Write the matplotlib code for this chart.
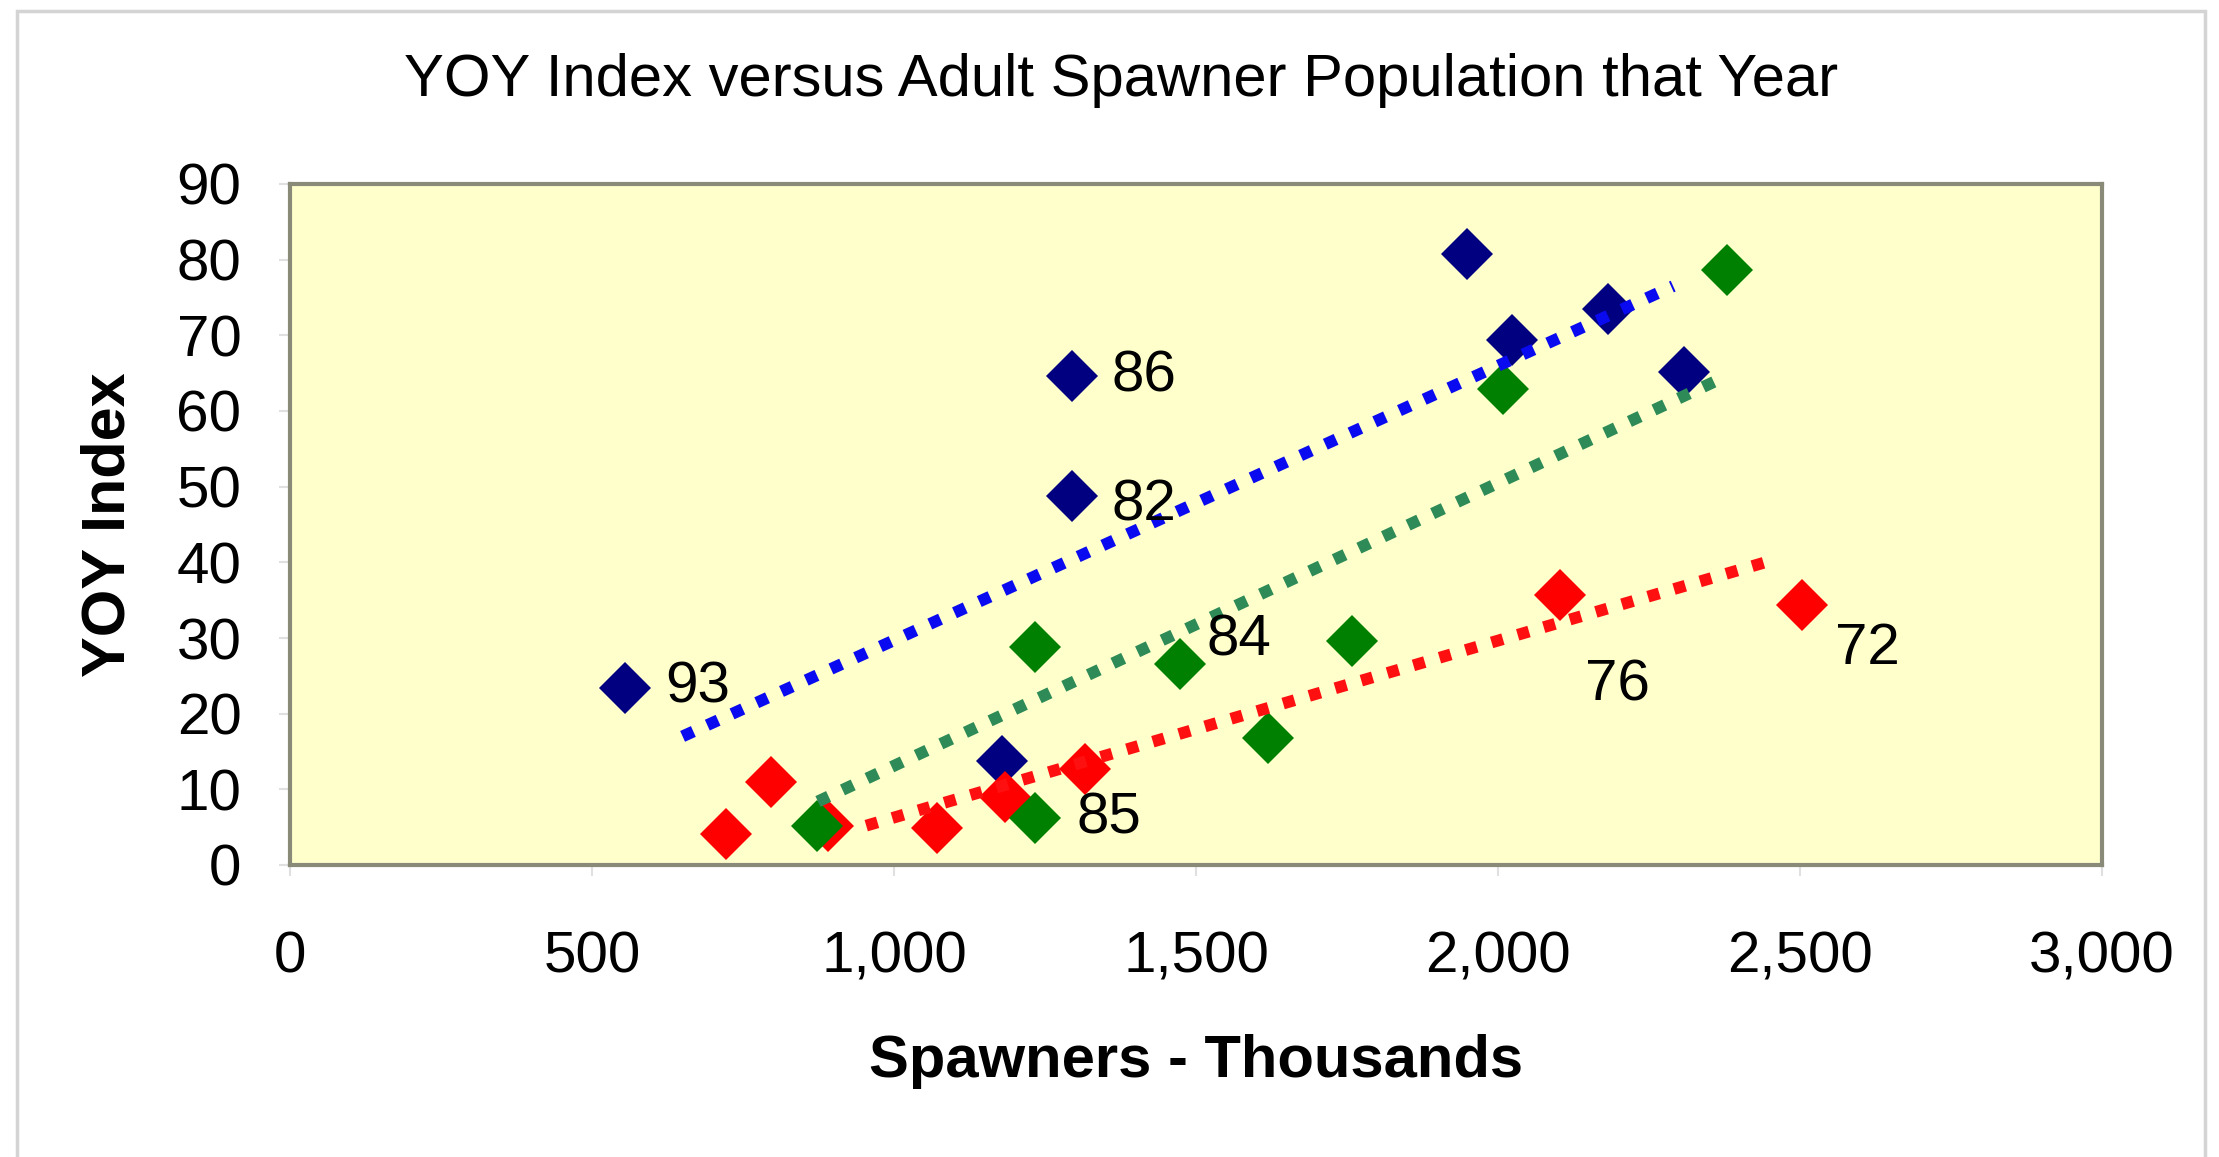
import numpy as np
import matplotlib
matplotlib.use("Agg")
import matplotlib.pyplot as plt
from matplotlib.ticker import FuncFormatter
from matplotlib.patches import Rectangle

plt.rcParams['font.family'] = ['Liberation Sans', 'DejaVu Sans']

#========== Data ==========
# spawners in thousands, YOY index
blue_x = [555, 1294, 1294, 1179, 1948, 2023, 2182, 2308]
blue_y = [23.4, 64.6, 48.8, 13.8, 80.8, 69.4, 73.5, 65.1]

red_x = [722, 797, 891, 1071, 1184, 1317, 2102, 2503]
red_y = [4.1, 11.0, 5.2, 4.9, 9.0, 12.7, 35.7, 34.4]

green_x = [872, 1233, 1233, 1474, 1619, 1758, 2008, 2379]
green_y = [5.1, 28.8, 6.2, 26.6, 16.8, 29.6, 62.9, 78.6]

# trend line end points
blue_trend_x = [650, 2290]
blue_trend_y = [17.0, 76.5]
green_trend_x = [874, 2367]
green_trend_y = [8.4, 64.2]
red_trend_x = [954, 2451]
red_trend_y = [5.2, 40.2]

# year labels: (text, x, y)
label_text = ['93', '86', '82', '84', '85', '76', '72']
label_x = [555, 1294, 1294, 1474, 1233, 2102, 2503]
label_y = [23.4, 64.6, 48.8, 26.6, 6.2, 35.7, 34.4]

x_ticks = [0, 500, 1000, 1500, 2000, 2500, 3000]
y_ticks = [0, 10, 20, 30, 40, 50, 60, 70, 80, 90]

#========== Figure ==========
fig = plt.figure(figsize=(22.19, 11.57), dpi=100)
fig.patch.set_facecolor('white')

# chart area border
fig.patches.append(Rectangle((17/2219, -0.05), (2205-17)/2219, 1.05 - 11/1157,
                             transform=fig.transFigure, fill=False,
                             edgecolor='#d4d4d4', linewidth=2.5))

ax = fig.add_axes([290/2219, 1 - 865/1157, 1812/2219, 681/1157])
ax.set_facecolor('#ffffcc')

ms = 26
ax.plot(blue_x, blue_y, 'D', color='#000080', markersize=ms, markeredgewidth=0, zorder=3)
ax.plot(red_x, red_y, 'D', color='#ff0000', markersize=ms, markeredgewidth=0, zorder=3)
ax.plot(green_x, green_y, 'D', color='#008000', markersize=ms, markeredgewidth=0, zorder=3)

ls = (0, (1, 1.3))
ax.plot(blue_trend_x, blue_trend_y, color='#0a0af0', lw=8.5, linestyle=ls, dash_capstyle='butt', zorder=4)
ax.plot(green_trend_x, green_trend_y, color='#2e8b57', lw=8.5, linestyle=ls, dash_capstyle='butt', zorder=4)
ax.plot(red_trend_x, red_trend_y, color='#ff1010', lw=8.5, linestyle=ls, dash_capstyle='butt', zorder=4)

offsets = [(29, 0), (29, 0), (29, -7), (19, 17), (30, 0), (18, -65), (24, -32)]
for t, lx, ly, off in zip(label_text, label_x, label_y, offsets):
    ax.annotate(t, (lx, ly), xytext=off, textcoords='offset points',
                fontsize=42, va='center', ha='left', color='black', zorder=5)

ax.set_xlim(0, 3000)
ax.set_ylim(0, 90)
ax.set_xticks(x_ticks)
ax.set_yticks(y_ticks)
ax.xaxis.set_major_formatter(FuncFormatter(lambda v, p: '{:,.0f}'.format(v)))
ax.tick_params(axis='x', labelsize=42, length=8, width=1.5, color='#e0e0e0', pad=39)
ax.tick_params(axis='y', labelsize=42, length=8, width=1.5, color='#e0e0e0', pad=27)

for s in ax.spines.values():
    s.set_color('#8a8a78')
    s.set_linewidth(3)

ax.set_xlabel('Spawners - Thousands', fontsize=43, fontweight='bold', labelpad=36)
ax.set_ylabel('YOY Index', fontsize=44, fontweight='bold', labelpad=28)

fig.text(1121/2219, 1 - 81/1157, 'YOY Index versus Adult Spawner Population that Year',
         fontsize=43, ha='center', va='center')

fig.savefig('out.png', dpi=100)
